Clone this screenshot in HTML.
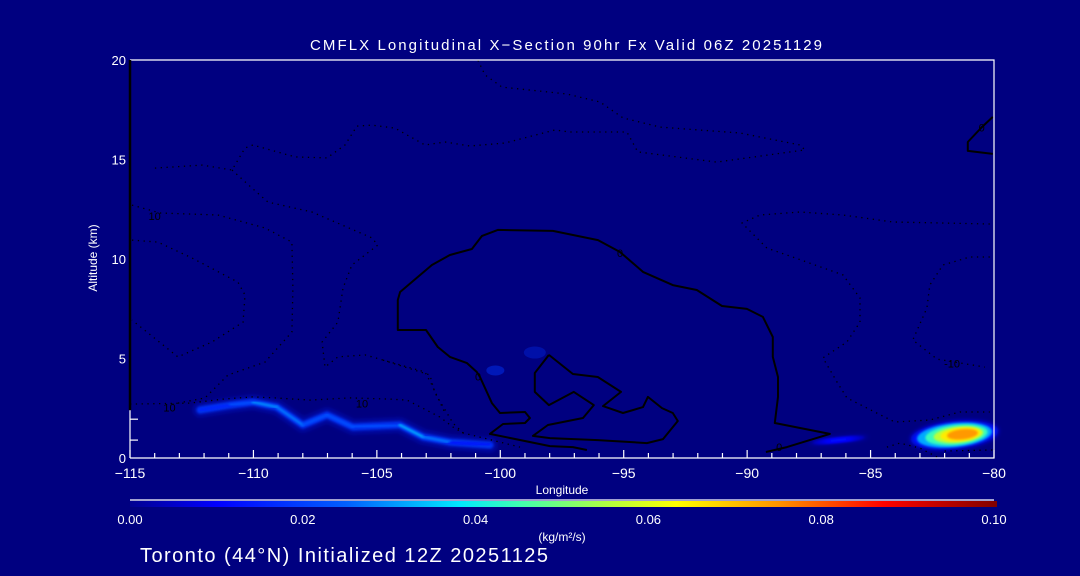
<!DOCTYPE html>
<html><head><meta charset="utf-8">
<style>
html,body{margin:0;padding:0;background:#000080;}
svg{display:block;font-family:"Liberation Sans",sans-serif;}
</style></head>
<body>
<svg id="chart" width="1080" height="576" viewBox="0 0 1080 576" xmlns="http://www.w3.org/2000/svg">
<defs>
<filter id="blur2" x="-20%" y="-50%" width="140%" height="200%"><feGaussianBlur stdDeviation="2"/></filter>
<filter id="blur1"><feGaussianBlur stdDeviation="1"/></filter>
<linearGradient id="cbar" x1="0" x2="1" y1="0" y2="0">
<stop offset="0" stop-color="#000090"/><stop offset="0.1" stop-color="#0000ff"/><stop offset="0.25" stop-color="#0060ff"/>
<stop offset="0.38" stop-color="#00e8ff"/><stop offset="0.45" stop-color="#40ffb0"/><stop offset="0.55" stop-color="#b0ff40"/>
<stop offset="0.63" stop-color="#ffff00"/><stop offset="0.75" stop-color="#ff9000"/><stop offset="0.87" stop-color="#ff0000"/>
<stop offset="1" stop-color="#800000"/></linearGradient>
</defs>
<rect x="0" y="0" width="1080" height="576" fill="#000080"/>
<g id="plot"></g>
<text x="310" y="50" fill="#fff" font-size="15" textLength="512" lengthAdjust="spacing">CMFLX Longitudinal X−Section 90hr  Fx Valid 06Z 20251129</text>
<text transform="translate(97,258) rotate(-90)" fill="#fff" font-size="12" text-anchor="middle">Altitude (km)</text>
<text x="562" y="494" fill="#fff" font-size="12" text-anchor="middle">Longitude</text>
<rect x="130" y="501" width="867" height="6" fill="url(#cbar)"/>
<line x1="130" y1="500" x2="994" y2="500" stroke="#fff" stroke-width="1.2"/>
<text x="562" y="541" fill="#fff" font-size="12" text-anchor="middle">(kg/m²/s)</text>
<text x="140" y="562" fill="#fff" font-size="20" textLength="408" lengthAdjust="spacing">Toronto (44°N) Initialized 12Z 20251125</text>
</svg>
<script>
const xTicks=[-115,-110,-105,-100,-95,-90,-85,-80];
const yTicks=[0,5,10,15,20];
const cbTicks=[0.00,0.02,0.04,0.06,0.08,0.10];
const zeroLon=[-96.49,-97.06,-97.99,-100.42,-99.89,-99.0,-98.8,-99.0,-100.01,-100.34,-100.82,-100.95,-101.35,-102.04,-102.53,-103.01,-104.15,-104.15,-104.06,-102.77,-102.04,-101.15,-100.74,-100.1,-97.87,-96.04,-95.15,-94.22,-93.01,-92.04,-91.02,-90.01,-89.36,-88.96,-88.96,-88.75,-88.75,-88.88,-86.65,-88.39,-89.24];
const zeroAlt=[0.4,0.55,0.6,1.21,1.71,1.76,2.01,2.31,2.26,2.76,4.07,4.32,4.77,5.08,5.58,6.43,6.43,7.94,8.34,9.7,10.2,10.5,11.16,11.46,11.41,10.95,10.35,9.35,8.69,8.44,7.64,7.49,7.09,6.08,5.08,4.07,3.07,1.76,1.21,0.55,0.3];
const loopLon=[-98.03,-97.06,-96.05,-95.11,-95.84,-95.03,-94.22,-94.02,-93.45,-93.01,-92.81,-93.41,-94.06,-96.05,-97.99,-98.68,-98.07,-96.65,-96.21,-97.02,-98.03,-98.6,-98.6,-98.03];
const loopAlt=[5.18,4.22,4.07,3.32,2.61,2.26,2.56,3.07,2.51,2.26,1.86,0.95,0.75,0.9,1.0,1.11,1.66,2.01,2.66,3.32,2.66,3.32,4.27,5.18];
const trLon=[-80.05,-80.49,-81.06,-81.06,-80.05];
const trAlt=[17.14,16.63,15.88,15.43,15.28];
const dotA_lon=[-113.99,-112.08,-110.87,-110.34,-110.02,-108.32,-107.02,-106.29,-105.81,-105.2,-104.27,-103.05,-102.24,-101.23,-99.81,-97.79,-97.18,-94.87,-94.43,-91.23,-87.66,-87.86,-90.29,-93.53,-95.03,-95.96,-97.3,-99.93,-100.62,-100.91];
const dotA_alt=[14.57,14.72,14.47,15.58,15.73,15.13,15.08,15.73,16.68,16.73,16.58,15.73,15.88,15.68,15.83,16.48,16.38,16.38,15.38,14.87,15.48,15.73,16.33,16.63,17.09,17.89,18.29,18.64,19.25,20];
const dotB_lon=[-114.92,-113.78,-111.44,-109.53,-108.44,-108.4,-108.44,-109.53,-111.03,-111.96,-113.46];
const dotB_alt=[12.71,12.31,12.21,11.56,10.85,8.54,6.33,4.82,4.17,3.02,2.66];
const dotC_lon=[-114.92,-113.87,-112.49,-110.63,-110.34,-110.42,-111.68,-113.06,-114.92];
const dotC_alt=[10.95,10.85,10.05,8.84,8.19,6.83,5.83,5.08,6.93];
const dotD_lon=[-110.87,-110.06,-109.41,-107.63,-105.2,-104.96,-106.01,-106.37,-106.58,-107.22,-107.1,-106.58,-105.48,-103.05,-102.77,-102.24];
const dotD_alt=[14.47,13.57,12.86,12.36,11.06,10.7,9.7,8.54,6.83,5.83,4.57,5.08,5.18,4.32,3.67,2.26];
const dotBot_lon=[-115,-112.57,-111.23,-110.02,-109.13,-107.71,-106.09,-104.47,-103.78,-102.45,-101.92,-101.51,-99.2];
const dotBot_alt=[2.71,2.76,2.96,3.07,3.02,2.91,3.02,2.96,2.91,2.06,1.56,1.26,0.55];
const dotG_lon=[-104.75,-102.85,-102.65,-101.92,-101.51];
const dotG_alt=[4.92,4.17,3.27,1.76,1.26];
const dotE_lon=[-80.17,-84.1,-86.12,-87.86,-89.48,-90.21,-89.2,-88.39,-86.12,-85.43,-85.43,-85.96,-86.93,-86.36,-85.96,-84.75,-84.02,-82.6,-81.38,-80.17];
const dotE_alt=[11.76,11.86,12.21,12.36,12.21,11.81,10.55,10.2,9.2,8.04,6.83,5.83,5.03,3.82,3.02,2.26,1.81,1.91,2.31,2.31];
const dotF_lon=[-80.17,-80.98,-82.07,-82.6,-82.72,-83.29,-82.31,-80.37];
const dotF_alt=[10.1,10.1,9.7,8.69,7.54,5.93,4.97,4.57];
const dotH_lon=[-84.34,-83.81,-83.0,-82.31];
const dotH_alt=[0.55,0.75,0.5,0.05];
const dotI_lon=[-82.0,-80.05];
const dotI_alt=[0.35,0.4];
const plumeLon=[-112.16,-110.95,-110.02,-109.05,-108.0,-107.02,-105.97,-104.07,-103.13,-102.04,-100.42];
const plumeAlt=[2.41,2.66,2.81,2.56,1.66,2.16,1.56,1.66,1.06,0.8,0.65];
const plumeVal=[0.01,0.02,0.025,0.035,0.02,0.025,0.02,0.025,0.04,0.015,0.008];
const blobLon=[-81.6,-86.3];
const blobAlt=[1.15,0.9];
const blobVal=[0.08,0.012];

const X0=130,X1=994,Y0=458,Y1=60;
const xs=v=>X0+(v+115)/35*(X1-X0);
const ys=v=>Y0-v/20*(Y0-Y1);
const NS='http://www.w3.org/2000/svg';
const svg=document.getElementById('chart');
const plot=document.getElementById('plot');
function mk(tag,attrs,parent){const e=document.createElementNS(NS,tag);for(const k in attrs)e.setAttribute(k,attrs[k]);(parent||plot).appendChild(e);return e;}
function cmap(v){
  const s=[[0,[0,0,144]],[0.01,[0,0,255]],[0.025,[0,96,255]],[0.038,[0,232,255]],[0.045,[64,255,176]],[0.055,[176,255,64]],[0.063,[255,255,0]],[0.075,[255,144,0]],[0.087,[255,0,0]],[0.1,[128,0,0]]];
  for(let i=1;i<s.length;i++){if(v<=s[i][0]){const t=(v-s[i-1][0])/(s[i][0]-s[i-1][0]);const a=s[i-1][1],b=s[i][1];return 'rgb('+a.map((c,j)=>Math.round(c+(b[j]-c)*t)).join(',')+')';}}
  return 'rgb(128,0,0)';
}
function pts(lon,alt){return lon.map((v,i)=>xs(v).toFixed(1)+','+ys(alt[i]).toFixed(1)).join(' ');}

const p1=mk('ellipse',{cx:xs(-98.6),cy:ys(5.3),rx:11,ry:6,fill:'#0010a8'});


const p2=mk('ellipse',{cx:xs(-100.2),cy:ys(4.4),rx:9,ry:5,fill:'#0018b8'});



const pg=mk('g',{});


mk('polyline',{points:pts(plumeLon,plumeAlt),fill:'none',stroke:'#0018d0','stroke-width':14,'stroke-linejoin':'round','stroke-linecap':'round',opacity:0.5,filter:'url(#blur2)'},pg);
mk('polyline',{points:pts(plumeLon,plumeAlt),fill:'none',stroke:'#0030f0','stroke-width':7,'stroke-linejoin':'round','stroke-linecap':'round',filter:'url(#blur1)'},pg);
for(let i=0;i<plumeLon.length-1;i++){
  const seg=mk('line',{x1:xs(plumeLon[i]),y1:ys(plumeAlt[i]),x2:xs(plumeLon[i+1]),y2:ys(plumeAlt[i+1]),stroke:cmap((plumeVal[i]+plumeVal[i+1])/2),'stroke-width':2.5,'stroke-linecap':'round',filter:'url(#blur1)'},pg);
  
  
}
for(let i=0;i<blobLon.length;i++){
  const g=mk('g',{transform:'translate('+xs(blobLon[i])+','+ys(blobAlt[i])+') rotate(-6)'});
  
  
  const big=blobVal[i]>0.03;
  const rx=big?44:30, ry=big?14:4;
  const lv=[0.2,0.4,0.6,0.75,0.9];
  mk('ellipse',{cx:0,cy:0,rx:rx,ry:ry,fill:cmap(blobVal[i]*0.15),filter:'url(#blur2)'},g);
  lv.forEach((f,k)=>mk('ellipse',{cx:big?k*2:0,cy:0,rx:rx*(1-f*0.72),ry:ry*(1-f*0.7),fill:cmap(blobVal[i]*(0.25+f*0.75)),filter:'url(#blur1)'},g));
}

function contour(lon,alt,name,dotted,w){
  const e=mk('polyline',{points:pts(lon,alt),fill:'none',stroke:'#000','stroke-width':w||(dotted?1.3:2),'stroke-dasharray':dotted?'1.3,4.5':'none','stroke-linejoin':'round'});
  
  
}
contour(zeroLon,zeroAlt,'zero-contour',false);
contour(loopLon,loopAlt,'zero-contour-loop',false);
contour(trLon,trAlt,'zero-contour-top-right',false);
contour(dotA_lon,dotA_alt,'negative-contour',true);
contour(dotB_lon,dotB_alt,'negative-contour',true);
contour(dotC_lon,dotC_alt,'negative-contour',true);
contour(dotD_lon,dotD_alt,'negative-contour',true);
contour(dotBot_lon,dotBot_alt,'negative-contour',true);
contour(dotG_lon,dotG_alt,'negative-contour',true);
contour(dotE_lon,dotE_alt,'negative-contour',true);
contour(dotF_lon,dotF_alt,'negative-contour',true);
contour(dotH_lon,dotH_alt,'negative-contour',true);
contour(dotI_lon,dotI_alt,'negative-contour',true);
const labLon=[-113.4,-105.6,-81.7,-114.0,-88.7,-95.15,-100.9,-80.5];
const labAlt=[2.55,2.75,4.75,12.15,0.55,10.3,4.1,16.6];
const labTxt=['10','10','-10','10','0','0','0','0'];
labLon.forEach((v,i)=>{const t=mk('text',{x:xs(v),y:ys(labAlt[i])+4,'font-size':11,fill:'#000','text-anchor':'middle'});t.textContent=labTxt[i];

});

const fr=mk('path',{d:'M'+X0+','+Y1+' H'+X1+' V'+Y0+' H'+X0,fill:'none',stroke:'#fff','stroke-width':1.2},svg);


const la=mk('line',{x1:X0,y1:Y1,x2:X0,y2:ys(2.4),stroke:'#000','stroke-width':2.5},svg);


const lw=mk('line',{x1:X0,y1:ys(2.4),x2:X0,y2:Y0,stroke:'#fff','stroke-width':1.2},svg);


[0.9,1.95].forEach(v=>{const t=mk('line',{x1:X0,y1:ys(v),x2:X0+8,y2:ys(v),stroke:'#fff','stroke-width':1.2},svg);

});
for(let v=-115;v<=-80;v++){
  const maj=(v%5===0);
  const t=mk('line',{x1:xs(v),y1:Y0,x2:xs(v),y2:Y0-(maj?8:5),stroke:'#fff','stroke-width':1.2},svg);
  
  
}
xTicks.forEach(v=>{const t=mk('text',{x:xs(v),y:Y0+20,'font-size':14,fill:'#fff','text-anchor':'middle'},svg);t.textContent=String(v).replace('-','−');

});
yTicks.forEach(v=>{const t=mk('text',{x:X0-4,y:ys(v)+5,'font-size':13,fill:'#fff','text-anchor':'end'},svg);t.textContent=String(v);

});
cbTicks.forEach(v=>{const t=mk('text',{x:130+v/0.1*864,y:524,'font-size':13,fill:'#fff','text-anchor':'middle'},svg);t.textContent=v.toFixed(2);

});
</script>
</body></html>
